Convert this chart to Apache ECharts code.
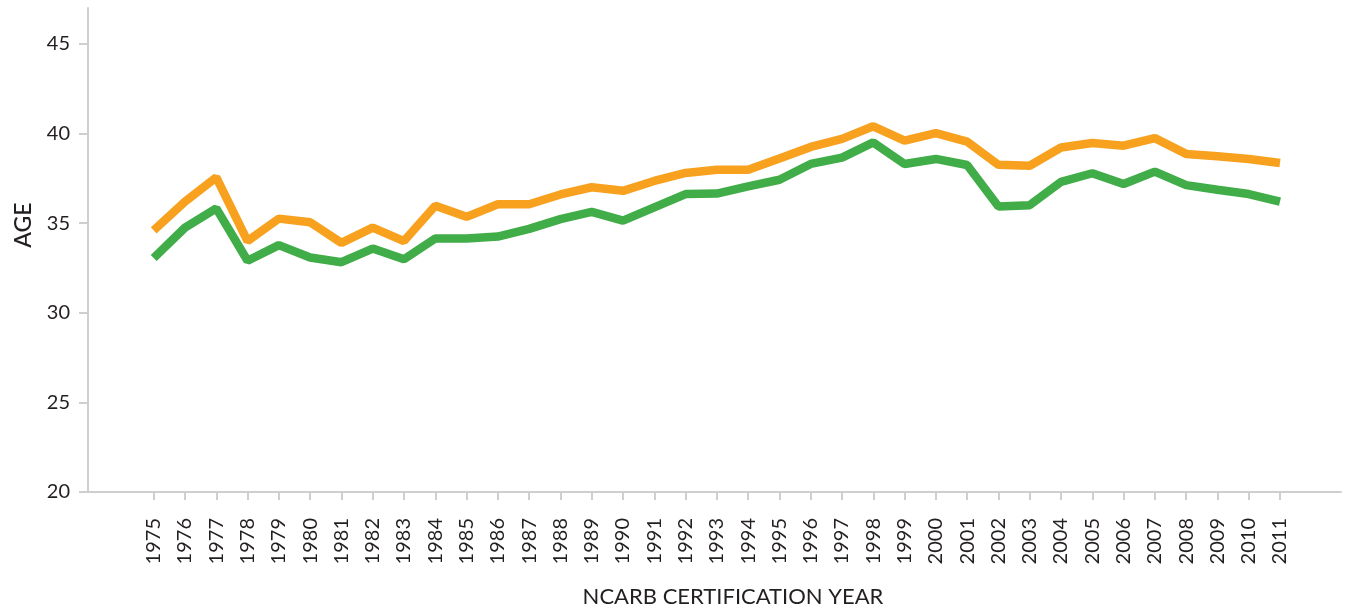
<!DOCTYPE html>
<html>
<head>
<meta charset="utf-8">
<script src="https://cdn.jsdelivr.net/npm/echarts@6/dist/echarts.min.js"></script>
<style>
  html, body { margin: 0; padding: 0; background: #fff; }
  #main { width: 1348px; height: 610px; }
</style>
</head>
<body>
<div id="main"></div>
<script>
// 数据
var years = [1975, 1976, 1977, 1978, 1979, 1980, 1981, 1982, 1983, 1984,
  1985, 1986, 1987, 1988, 1989, 1990, 1991, 1992, 1993, 1994,
  1995, 1996, 1997, 1998, 1999, 2000, 2001, 2002, 2003, 2004,
  2005, 2006, 2007, 2008, 2009, 2010, 2011];
var orangeAges = [34.6, 36.2, 37.55, 34.0, 35.25, 35.05, 33.9, 34.75, 34.0, 35.97,
  35.35, 36.05, 36.05, 36.6, 37.0, 36.8, 37.35, 37.8, 37.98, 37.98,
  38.6, 39.25, 39.7, 40.4, 39.6, 40.02, 39.55, 38.25, 38.2, 39.22,
  39.47, 39.32, 39.74, 38.86, 38.73, 38.58, 38.35];
var greenAges = [33.05, 34.75, 35.82, 32.9, 33.77, 33.08, 32.82, 33.58, 32.98, 34.14,
  34.14, 34.25, 34.68, 35.22, 35.63, 35.14, 35.88, 36.62, 36.65, 37.05,
  37.42, 38.3, 38.65, 39.5, 38.3, 38.58, 38.24, 35.93, 36.0, 37.3,
  37.78, 37.18, 37.87, 37.12, 36.86, 36.62, 36.2];
var yTicks = [20, 25, 30, 35, 40, 45];

var textColor = '#231f20';
var axisColor = '#cfcfcf';
var font = 'Lato, "Open Sans", sans-serif';

var chart = echarts.init(document.getElementById('main'));

function pairs (arr) {
  return arr.map(function (v, i) { return [years[i], v]; });
}

chart.setOption({
  animation: false,
  grid: { left: 88, right: 7, top: 8, bottom: 118 },
  xAxis: {
    type: 'value',
    min: 1972.9,
    max: 2012.95,
    splitLine: { show: false },
    axisLine: { show: true, lineStyle: { color: axisColor, width: 2 } },
    axisTick: { show: true, customValues: years, length: 8, lineStyle: { color: axisColor, width: 2 } },
    axisLabel: {
      customValues: years,
      rotate: 90,
      margin: 26,
      color: textColor,
      fontFamily: font,
      fontSize: 20,
      formatter: function (v) { return String(v); }
    }
  },
  yAxis: {
    type: 'value',
    min: 20,
    max: 47,
    splitLine: { show: false },
    axisLine: { show: true, lineStyle: { color: axisColor, width: 2 } },
    axisTick: { show: true, customValues: yTicks, length: 9, lineStyle: { color: axisColor, width: 2 } },
    axisLabel: {
      customValues: yTicks,
      margin: 18,
      color: textColor,
      fontFamily: font,
      fontSize: 20
    }
  },
  graphic: [
    {
      type: 'text',
      x: 24, y: 225,
      rotation: Math.PI / 2,
      style: {
        text: 'AGE',
        fill: textColor,
        font: '500 23px ' + font,
        textAlign: 'center',
        textVerticalAlign: 'middle'
      }
    },
    {
      type: 'text',
      x: 733, y: 597,
      style: {
        text: 'NCARB CERTIFICATION YEAR',
        fill: textColor,
        font: '22px ' + font,
        letterSpacing: 1,
        textAlign: 'center',
        textVerticalAlign: 'middle'
      }
    }
  ],
  series: [
    {
      type: 'line',
      data: pairs(greenAges),
      showSymbol: false,
      lineStyle: { color: '#41ad49', width: 8.5 }
    },
    {
      type: 'line',
      data: pairs(orangeAges),
      showSymbol: false,
      lineStyle: { color: '#f8a11e', width: 8.5 }
    }
  ]
});
</script>
</body>
</html>
